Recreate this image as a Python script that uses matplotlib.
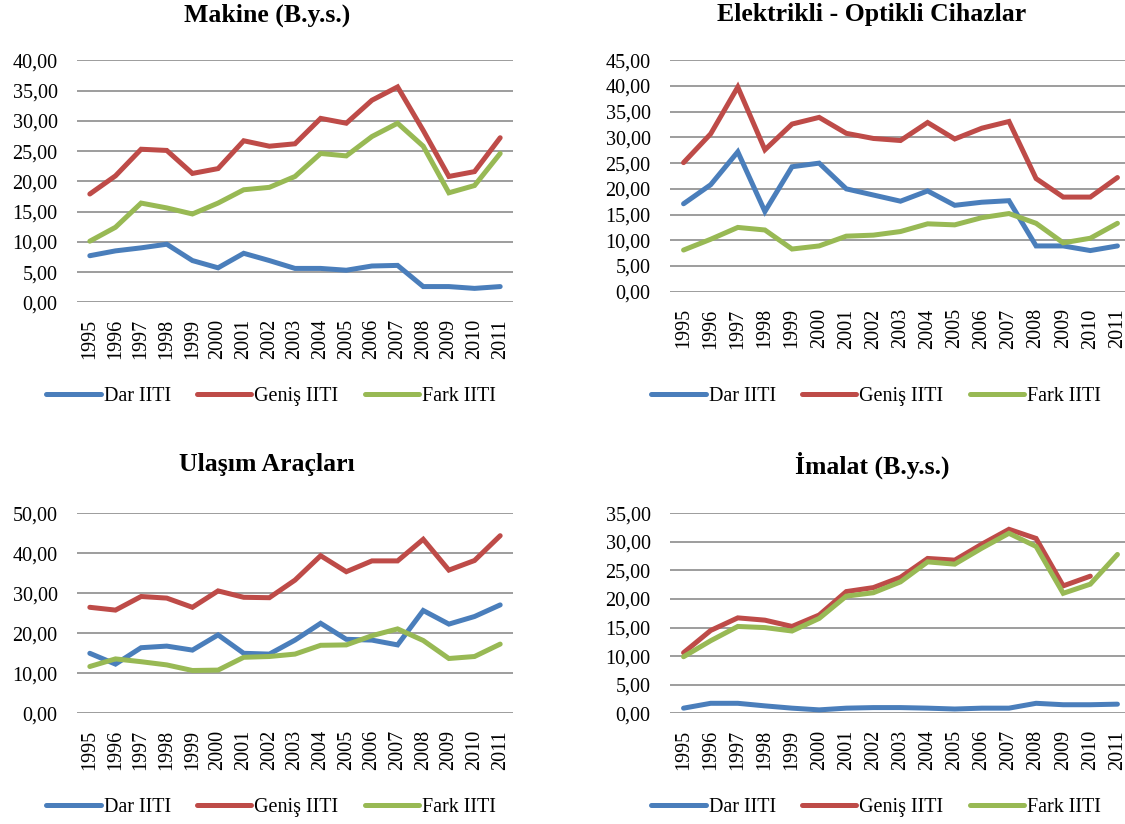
import numpy as np
import matplotlib
matplotlib.use("Agg")
import matplotlib.pyplot as plt
from matplotlib.ticker import FuncFormatter, MultipleLocator

plt.rcParams['font.family'] = ['Liberation Serif', 'DejaVu Serif']

years = [str(y) for y in range(1995, 2012)]
series_names = ["Dar IITI", "Geniş IITI", "Fark IITI"]
colors = ["#4a7ebb", "#be4b48", "#98b954"]

titles = ["Makine (B.y.s.)", "Elektrikli - Optikli Cihazlar",
          "Ulaşım Araçları", "İmalat (B.y.s.)"]

makine_dar = [7.7, 8.5, 9.0, 9.6, 6.9, 5.7, 8.1, 6.9, 5.6, 5.6, 5.3, 6.0, 6.1, 2.6, 2.6, 2.3, 2.6]
makine_genis = [17.9, 20.9, 25.3, 25.1, 21.3, 22.1, 26.7, 25.8, 26.2, 30.4, 29.6, 33.4, 35.6, 28.4, 20.8, 21.6, 27.2]
makine_fark = [10.1, 12.4, 16.4, 15.6, 14.6, 16.4, 18.6, 19.0, 20.8, 24.6, 24.2, 27.4, 29.6, 25.8, 18.1, 19.3, 24.6]

elek_dar = [17.1, 20.8, 27.2, 15.6, 24.3, 25.0, 20.0, 18.8, 17.6, 19.6, 16.8, 17.4, 17.7, 8.9, 8.9, 8.0, 8.9]
elek_genis = [25.1, 30.7, 39.8, 27.6, 32.6, 33.9, 30.8, 29.8, 29.4, 32.9, 29.7, 31.8, 33.1, 22.0, 18.4, 18.4, 22.2]
elek_fark = [8.1, 10.2, 12.5, 12.0, 8.3, 8.9, 10.8, 11.0, 11.7, 13.2, 13.0, 14.4, 15.2, 13.3, 9.5, 10.4, 13.3]

ulasim_dar = [15.0, 12.3, 16.4, 16.8, 15.8, 19.6, 15.0, 14.8, 18.3, 22.5, 18.5, 18.3, 17.1, 25.7, 22.3, 24.2, 27.1]
ulasim_genis = [26.5, 25.8, 29.2, 28.8, 26.5, 30.6, 29.0, 28.9, 33.3, 39.4, 35.4, 38.1, 38.1, 43.5, 35.8, 38.2, 44.4]
ulasim_fark = [11.7, 13.6, 12.9, 12.1, 10.7, 10.8, 14.0, 14.2, 14.8, 17.0, 17.1, 19.4, 21.1, 18.2, 13.7, 14.2, 17.3]

imalat_dar = [0.9, 1.75, 1.75, 1.3, 0.9, 0.6, 0.9, 1.0, 1.0, 0.9, 0.75, 0.9, 0.9, 1.75, 1.5, 1.5, 1.6]
imalat_genis = [10.6, 14.5, 16.7, 16.3, 15.2, 17.2, 21.3, 22.0, 23.8, 27.1, 26.8, 29.6, 32.2, 30.6, 22.3, 24.0, np.nan]
imalat_fark = [9.9, 12.7, 15.2, 15.0, 14.4, 16.6, 20.5, 21.1, 23.0, 26.5, 26.1, 28.9, 31.5, 29.2, 21.0, 22.6, 27.8]

panels = [
    (makine_dar, makine_genis, makine_fark),
    (elek_dar, elek_genis, elek_fark),
    (ulasim_dar, ulasim_genis, ulasim_fark),
    (imalat_dar, imalat_genis, imalat_fark),
]
ymax = [40, 45, 50, 35]
ystep = [5, 5, 10, 5]

W, H = 1125, 824
fig = plt.figure(figsize=(W / 100, H / 100), dpi=100)

# axes boxes in pixels: left, top, right, bottom
boxes = [
    (77, 60.3, 513, 302.3),
    (670, 60.3, 1131, 291.7),
    (77, 513.3, 513, 713.3),
    (670, 513.3, 1131, 713.3),
]
title_pos = [(267, 15), (872, 15), (267, 465), (872, 465)]
legend_pos = [(271, 396), (876, 396), (271, 807), (876, 807)]

fmt = FuncFormatter(lambda v, p: f"{v:.2f}".replace('.', ','))

for i, (data, (l, t, r, b)) in enumerate(zip(panels, boxes)):
    ax = fig.add_axes([l / W, 1 - b / H, (r - l) / W, (b - t) / H])
    x = np.arange(len(years))
    for vals, name, c in zip(data, series_names, colors):
        ax.plot(x, vals, color=c, lw=3.6, label=name, solid_capstyle='round',
                solid_joinstyle='miter')
    ax.set_xlim(-0.5, len(years) - 0.5)
    ax.set_ylim(0, ymax[i])
    ax.yaxis.set_major_locator(MultipleLocator(ystep[i]))
    ax.yaxis.set_major_formatter(fmt)
    ax.set_xticks(x)
    ax.set_xticklabels(years, rotation=90)
    ax.tick_params(axis='both', length=0, labelsize=14.5)
    ax.tick_params(axis='y', pad=14)
    ax.tick_params(axis='x', pad=12)
    ax.grid(axis='y', color='#8c8c8c', lw=1.2)
    ax.set_axisbelow(True)
    for s in ax.spines.values():
        s.set_visible(False)
    fig.text(title_pos[i][0] / W, 1 - title_pos[i][1] / H, titles[i],
             ha='center', va='center', fontsize=18.5, fontweight='bold')
    ax.legend(loc='center', bbox_to_anchor=(legend_pos[i][0] / W, 1 - legend_pos[i][1] / H),
              bbox_transform=fig.transFigure, ncol=3, frameon=False, fontsize=14.5,
              handlelength=2.7, handletextpad=0.15, columnspacing=1.3)

fig.savefig("out.png", dpi=100)
